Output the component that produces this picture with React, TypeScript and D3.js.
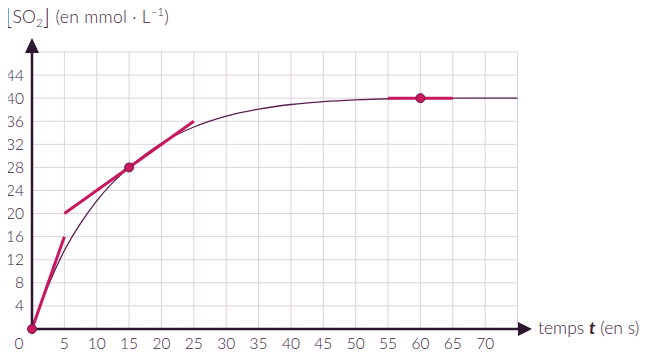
import { useEffect, useRef } from "react";
import * as d3 from "d3";

// values
const timeValues = [0, 2.5, 5, 7.5, 10, 12.5, 15, 20, 25, 30, 35, 40, 45, 50, 55, 60, 65, 70, 75];
const concValues = [0, 7.5, 13.6, 18.3, 22.2, 25.4, 28, 32.2, 35.0, 36.9, 38.1, 38.9, 39.4, 39.7, 39.9, 40, 40, 40, 40];

const xTicks = [5, 10, 15, 20, 25, 30, 35, 40, 45, 50, 55, 60, 65, 70];
const yTicks = [4, 8, 12, 16, 20, 24, 28, 32, 36, 40, 44];
const xGrid = [5, 10, 15, 20, 25, 30, 35, 40, 45, 50, 55, 60, 65, 70, 75];
const yGrid = [4, 8, 12, 16, 20, 24, 28, 32, 36, 40, 44, 48];

// tangents: [t1, c1, t2, c2]
const tangents = [
  [0, 0, 5, 16],
  [5, 20, 25, 36],
  [55, 40, 65, 40],
];
const markedPoints = [
  [0, 0],
  [15, 28],
  [60, 40],
];

const W = 654;
const H = 362;
const FONT = "Lato, 'Open Sans', sans-serif";
const TEXT = "#3d2340";
const AXIS = "#2e1530";
const PINK = "#c8185e";

export default function App() {
  const svgRef = useRef<SVGSVGElement | null>(null);

  useEffect(() => {
    if (!svgRef.current) return;
    const svg = d3.select(svgRef.current);
    svg.selectAll("*").remove();

    const x = d3.scaleLinear().domain([0, 75]).range([32, 517.5]);
    const y = d3.scaleLinear().domain([0, 48]).range([329, 52]);

    // grid
    const grid = svg.append("g").attr("stroke", "#ddd3dc").attr("stroke-width", 1);
    grid
      .selectAll("line.v")
      .data(xGrid)
      .enter()
      .append("line")
      .attr("x1", d => x(d))
      .attr("x2", d => x(d))
      .attr("y1", y(0))
      .attr("y2", y(48));
    grid
      .selectAll("line.h")
      .data(yGrid)
      .enter()
      .append("line")
      .attr("x1", x(0))
      .attr("x2", x(75))
      .attr("y1", d => y(d))
      .attr("y2", d => y(d));

    // curve
    const pts = timeValues.map((t, i) => [t, concValues[i]] as [number, number]);
    const line = d3
      .line<[number, number]>()
      .x(d => x(d[0]))
      .y(d => y(d[1]))
      .curve(d3.curveMonotoneX);
    svg
      .append("path")
      .attr("d", line(pts))
      .attr("fill", "none")
      .attr("stroke", "#5a1f52")
      .attr("stroke-width", 1.3);

    // tangents
    svg
      .selectAll("line.tan")
      .data(tangents)
      .enter()
      .append("line")
      .attr("x1", d => x(d[0]))
      .attr("y1", d => y(d[1]))
      .attr("x2", d => x(d[2]))
      .attr("y2", d => y(d[3]))
      .attr("stroke", PINK)
      .attr("stroke-width", 3);

    // axes
    svg
      .append("line")
      .attr("x1", x(0))
      .attr("x2", 520)
      .attr("y1", y(0))
      .attr("y2", y(0))
      .attr("stroke", AXIS)
      .attr("stroke-width", 2.5);
    svg
      .append("path")
      .attr("d", `M518,${y(0) - 7}L532,${y(0)}L518,${y(0) + 7}Z`)
      .attr("fill", AXIS);
    svg
      .append("line")
      .attr("x1", x(0))
      .attr("x2", x(0))
      .attr("y1", y(0))
      .attr("y2", 50)
      .attr("stroke", AXIS)
      .attr("stroke-width", 2.5);
    svg
      .append("path")
      .attr("d", `M${x(0) - 7},53L${x(0)},38L${x(0) + 7},53Z`)
      .attr("fill", AXIS);

    // points
    svg
      .selectAll("circle")
      .data(markedPoints)
      .enter()
      .append("circle")
      .attr("cx", d => x(d[0]))
      .attr("cy", d => y(d[1]))
      .attr("r", 4.5)
      .attr("fill", PINK)
      .attr("stroke", "#6b1a4a")
      .attr("stroke-width", 1);

    // tick labels
    const labels = svg
      .append("g")
      .attr("font-family", FONT)
      .attr("font-size", 15.5)
      .attr("font-weight", 300)
      .attr("fill", TEXT);
    labels
      .selectAll("text.x")
      .data(xTicks)
      .enter()
      .append("text")
      .attr("x", d => x(d))
      .attr("y", 349)
      .attr("text-anchor", "middle")
      .text(d => d);
    labels
      .selectAll("text.y")
      .data(yTicks)
      .enter()
      .append("text")
      .attr("x", 24)
      .attr("y", d => y(d) + 5.5)
      .attr("text-anchor", "end")
      .text(d => d);
    labels.append("text").attr("x", 19).attr("y", 349).attr("text-anchor", "middle").text("0");

    // axis titles
    const xt = svg
      .append("text")
      .attr("x", 538)
      .attr("y", 334)
      .attr("font-family", FONT)
      .attr("font-size", 17.5)
      .attr("font-weight", 300)
      .attr("fill", TEXT);
    xt.append("tspan").text("temps ");
    xt.append("tspan").attr("font-style", "italic").attr("font-weight", 700).text("t");
    xt.append("tspan").text(" (en s)");

    const yt = svg
      .append("text")
      .attr("x", 5)
      .attr("y", 23)
      .attr("font-family", FONT)
      .attr("font-size", 17.5)
      .attr("font-weight", 300)
      .attr("letter-spacing", 0.3)
      .attr("fill", TEXT);
    yt.append("tspan").attr("font-size", 24).attr("dy", 2).text("[");
    yt.append("tspan").attr("dy", -2).text("SO");
    yt.append("tspan").attr("font-size", 11).attr("dy", 4).text("2");
    yt.append("tspan").attr("font-size", 24).attr("dy", -2).text("]");
    yt.append("tspan").attr("dy", -2).text(" (en mmol · L");
    yt.append("tspan").attr("font-size", 11).attr("dy", -7).text("−1");
    yt.append("tspan").attr("dy", 7).text(")");
  }, []);

  return <svg ref={svgRef} width={W} height={H} style={{ display: "block", margin: "-8px", background: "#fff" }} />;
}
